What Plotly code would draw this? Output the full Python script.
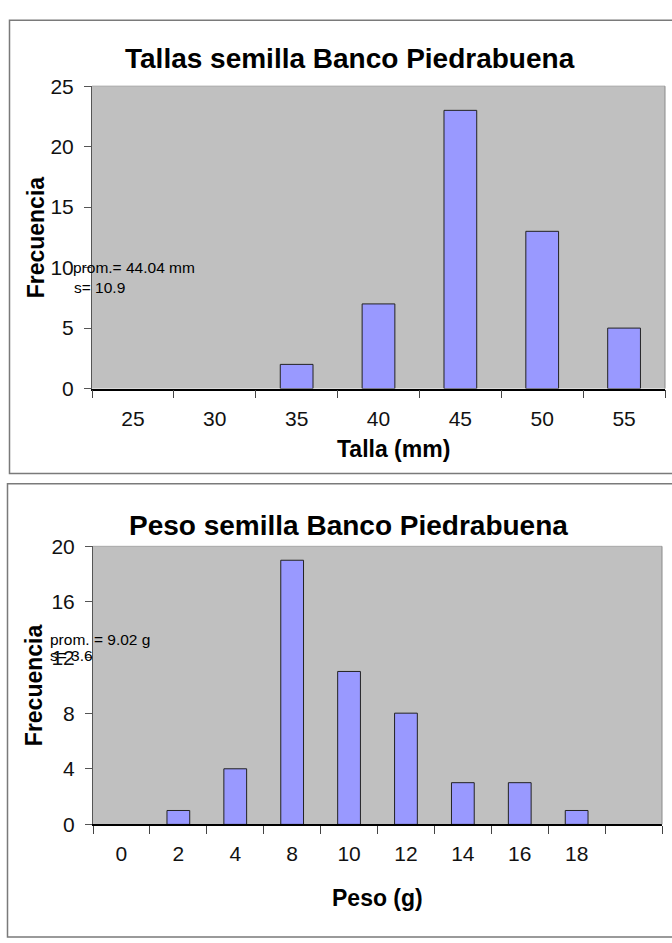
import plotly.graph_objects as go

W, H = 672, 943

# ---- data ----
talla_cats = ["25", "30", "35", "40", "45", "50", "55"]
talla_freq = [0, 0, 2, 7, 23, 13, 5]

peso_cats = ["0", "2", "4", "8", "10", "12", "14", "16", "18", " "]
peso_freq = [0, 1, 4, 19, 11, 8, 3, 3, 1, 0]

title_top = "Tallas semilla Banco Piedrabuena"
title_bot = "Peso semilla Banco Piedrabuena"
xlab_top = "Talla (mm)"
xlab_bot = "Peso (g)"
ylab = "Frecuencia"
note_top = ["prom.= 44.04 mm", "s= 10.9"]
note_bot = ["prom. = 9.02 g", "s= 3.6"]


def px(x):
    return x / W


def py(y):
    return 1 - y / H


FONT = "Liberation Sans, Arial, sans-serif"
BAR = "#9999ff"
PLOTBG = "#c0c0c0"


def outline(vals):
    # no outline for empty (zero-height) bars
    return [0 if v == 0 else 1 for v in vals]


fig = go.Figure()
fig.add_trace(go.Bar(x=talla_cats, y=talla_freq, xaxis="x", yaxis="y",
                     marker=dict(color=BAR, line=dict(color="#222222", width=outline(talla_freq))),
                     width=0.4, showlegend=False, hoverinfo="x+y"))
fig.add_trace(go.Bar(x=peso_cats, y=peso_freq, xaxis="x2", yaxis="y2",
                     marker=dict(color=BAR, line=dict(color="#222222", width=outline(peso_freq))),
                     width=0.4, showlegend=False, hoverinfo="x+y"))

# plot areas in pixels
top_box = dict(l=92, r=665, t=76, b=386)
bot_box = dict(l=93, r=662, t=547.7, b=832.7)

common_x = dict(type="category", showgrid=False, zeroline=False, showline=True,
                linecolor="#000000", linewidth=1.5, ticks="outside", tickson="boundaries",
                ticklen=8, tickcolor="#444444", tickwidth=1,
                tickfont=dict(family=FONT, size=21, color="#111111"),
                ticklabelstandoff=10, fixedrange=True)
common_y = dict(showgrid=False, zeroline=False, showline=True, linecolor="#555555",
                linewidth=1, ticks="outside", ticklen=7, tickcolor="#555555",
                tickfont=dict(family=FONT, size=21, color="#111111"),
                ticklabelstandoff=6, fixedrange=True)

fig.update_layout(
    width=W, height=H, autosize=False,
    margin=dict(l=0, r=0, t=0, b=0, pad=0),
    paper_bgcolor="white", plot_bgcolor=PLOTBG,
    bargap=0.6,
    xaxis=dict(common_x, domain=[px(top_box["l"]), px(top_box["r"])], anchor="y",
               categoryorder="array", categoryarray=talla_cats),
    yaxis=dict(common_y, domain=[py(top_box["b"]), py(top_box["t"])], anchor="x",
               range=[0, 25], tickvals=[0, 5, 10, 15, 20, 25]),
    xaxis2=dict(common_x, domain=[px(bot_box["l"]), px(bot_box["r"])], anchor="y2",
                categoryorder="array", categoryarray=peso_cats),
    yaxis2=dict(common_y, domain=[py(bot_box["b"]), py(bot_box["t"])], anchor="x2",
                range=[0, 20], tickvals=[0, 4, 8, 12, 16, 20]),
)

shapes = []
# outer frames
shapes.append(dict(type="rect", xref="paper", yref="paper",
                   x0=px(9.5), x1=px(675), y0=py(473), y1=py(8.5),
                   line=dict(color="#7a7a7a", width=1.5), layer="below"))
shapes.append(dict(type="rect", xref="paper", yref="paper",
                   x0=px(7.5), x1=px(675), y0=py(948), y1=py(483.5),
                   line=dict(color="#7a7a7a", width=1.5), layer="below"))
# plot-area borders (top/right subtle)
for b in (top_box, bot_box):
    shapes.append(dict(type="line", xref="paper", yref="paper",
                       x0=px(b["l"]), x1=px(b["r"]), y0=py(b["t"]), y1=py(b["t"]),
                       line=dict(color="#a8a8a8", width=1), layer="above"))
    shapes.append(dict(type="line", xref="paper", yref="paper",
                       x0=px(b["r"]), x1=px(b["r"]), y0=py(b["b"]), y1=py(b["t"]),
                       line=dict(color="#8a8a8a", width=1), layer="above"))
fig.update_layout(shapes=shapes)

ann = []


def text(x, y, s, size, bold=False, xanchor="center", angle=0):
    ann.append(dict(xref="paper", yref="paper", x=px(x), y=py(y), text=("<b>%s</b>" % s) if bold else s,
                    showarrow=False, xanchor=xanchor, yanchor="middle", textangle=angle,
                    font=dict(family=FONT, size=size, color="#000000")))


text(350, 48, title_top, 28, bold=True)
text(348, 526, title_bot, 28, bold=True)
text(393, 448, xlab_top, 23, bold=True)
text(377, 908, xlab_bot, 23, bold=True)
text(36, 231, ylab, 23, bold=True, angle=-90)
text(34, 690, ylab, 23, bold=True, angle=-90)
text(71, 262, note_top[0], 15.5, xanchor="left")
text(72, 282, note_top[1], 15.5, xanchor="left")
text(48, 643, note_bot[0], 15.5, xanchor="left")
text(48, 660, note_bot[1], 15.5, xanchor="left")
fig.update_layout(annotations=ann)

fig.write_html("out.html")
